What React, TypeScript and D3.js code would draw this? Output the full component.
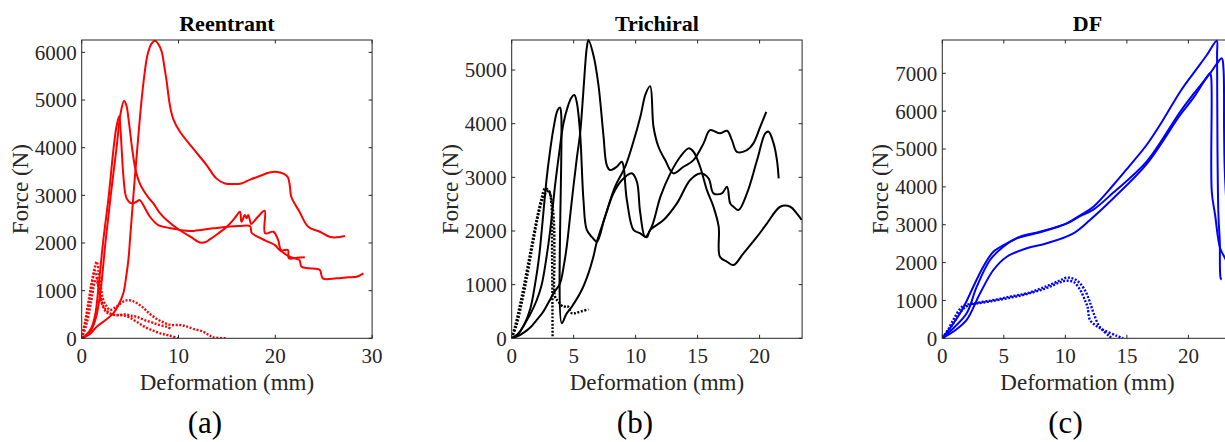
import React from "react";
import * as d3 from "d3";

// ---------- Data (Deformation mm, Force N) ----------
// (a) Reentrant
const reSolid1: [number, number][] = [[0,0],[0.8,80],[1.55,243],[2.5,390],[3.26,524],[3.8,700],[4.3,944],[4.6,1300],[4.85,1700],[5.0,2100],[5.25,2750],[5.5,3400],[5.75,4000],[6.0,4600],[6.4,5400],[6.8,5950],[7.2,6180],[7.57,6245],[7.9,6180],[8.26,6020],[8.5,5750],[8.77,5400],[9.1,4900],[9.46,4600],[10.15,4334],[11.5,3986],[12.9,3635],[13.9,3356],[14.8,3250],[15.65,3237],[16.5,3250],[17.4,3330],[18.4,3405],[19.4,3480],[20.2,3490],[20.9,3450],[21.3,3380],[21.5,3200],[21.65,2970],[22.5,2656],[23.4,2341],[24.6,2236],[25.6,2130],[26.3,2118],[27.2,2146]];
const reSolid2: [number, number][] = [[0,0],[0.5,60],[1.0,180],[1.5,450],[1.95,1000],[2.45,2000],[3.0,3000],[3.6,4000],[4.0,4700],[4.37,4978],[4.6,4900],[4.9,4500],[5.2,4000],[5.5,3600],[5.9,3300],[6.36,3111],[6.9,2950],[7.4,2832],[8.0,2650],[8.77,2482],[10.1,2272],[11.5,2098],[12.0,2030],[12.4,2006],[12.8,2020],[13.2,2070],[14.1,2200],[15.0,2341],[15.8,2520],[16.35,2656],[16.5,2446],[16.86,2587],[17.03,2517],[17.2,2587],[17.37,2482],[17.5,2400],[18.2,2550],[18.9,2677],[18.95,2203],[19.8,2236],[20.3,2062],[20.6,1852],[21.3,1852],[21.4,1678],[22.2,1690],[23.05,1700]];
const reSolid3: [number, number][] = [[0,0],[0.5,80],[1.0,220],[1.4,500],[1.7,1000],[2.2,2000],[2.8,3000],[3.3,4000],[3.6,4450],[3.88,4663],[4.0,4400],[4.15,3900],[4.3,3425],[4.64,2937],[5.16,2832],[5.6,2860],[6.0,2900],[6.36,2796],[7.05,2551],[7.9,2377],[8.77,2328],[9.5,2300],[10.5,2260],[11.2,2251],[12.5,2280],[13.6,2307],[15.0,2340],[16.3,2356],[17.4,2350],[17.55,2216],[18.0,2150],[19.0,2050],[20.0,1950],[20.3,1880],[20.8,1800],[21.4,1720],[22.0,1680],[22.5,1642],[22.7,1502],[23.5,1470],[24.6,1433],[24.9,1258],[26.3,1258],[27.5,1280],[28.4,1292],[29.1,1363]];
const reDotted1: [number, number][] = [[0,0],[0.4,400],[0.8,900],[1.2,1350],[1.55,1607],[1.75,1400],[2.0,1050],[2.23,803],[2.6,663],[2.92,594],[3.5,650],[4.2,760],[4.8,803],[5.5,760],[6.3,650],[7.0,520],[7.8,400],[8.5,330],[9.2,280],[10.15,279],[10.8,250],[11.5,200],[12.55,139],[13.2,60],[13.6,20],[15.0,0]];
const reDotted2: [number, number][] = [[0,0],[0.4,350],[0.8,800],[1.1,1200],[1.37,1420],[1.6,1250],[1.9,900],[2.3,650],[2.8,540],[3.3,490],[3.95,489],[4.5,500],[5.2,470],[5.68,453],[6.5,380],[7.3,330],[8.0,280],[8.8,240],[9.2,200]];
const reDotted3: [number, number][] = [[0,0],[0.5,300],[1.0,800],[1.3,1150],[1.5,1250],[1.7,1100],[2.0,780],[2.5,560],[3.0,500],[3.6,490],[4.3,480],[5.0,430],[5.8,330],[6.6,230],[7.4,160],[8.2,100],[9.0,60],[10.0,0]];

// (b) Trichiral
const triSolid1: [number, number][] = [[0,0],[0.5,80],[1.0,250],[1.5,550],[1.88,1000],[2.2,1500],[2.42,2000],[2.83,3000],[3.1,3500],[3.4,3950],[3.7,4250],[3.9,4300],[4.0,4150],[4.04,279],[4.4,450],[4.85,589],[5.65,900],[6.19,1211],[6.59,1520],[6.87,1800],[7.54,2266],[8.34,2825],[9.15,3197],[9.8,3650],[10.4,4150],[10.8,4550],[11.17,4700],[11.44,3943],[11.84,3570],[12.38,3322],[13.05,3074],[13.86,3197],[14.67,3322],[15.48,3633],[16.0,3881],[16.8,3820],[17.37,3868],[17.77,3695],[18.17,3477],[18.98,3508],[19.5,3633],[20.05,3943],[20.54,4222]];
const triSolid2: [number, number][] = [[0,0],[0.5,70],[1.0,250],[1.5,450],[2.0,700],[2.42,1000],[2.8,1500],[3.1,2000],[3.5,2850],[3.8,3400],[4.17,4000],[4.5,4300],[4.8,4480],[5.05,4534],[5.25,4400],[5.52,3820],[5.79,2578],[6.06,2019],[6.5,1880],[6.87,1800],[7.5,2250],[8.2,2700],[8.9,2950],[9.69,3075],[10.1,2918],[10.36,2359],[10.77,1893],[11.3,2080],[12.0,2640],[12.8,3074],[13.6,3384],[14.27,3540],[14.67,3477],[15.2,3197],[15.75,2763],[16.28,2452],[16.7,2080],[16.8,1520],[17.37,1427],[17.9,1366],[18.7,1584],[19.8,1893],[20.6,2143],[21.67,2452],[22.48,2452],[23.0,2329],[23.4,2204]];
const triSolid3: [number, number][] = [[0,0],[0.5,40],[1.0,110],[1.5,200],[2.02,342],[2.5,480],[3.0,680],[3.37,839],[3.9,1025],[4.2,1350],[4.44,1708],[4.7,2250],[4.98,2826],[5.25,3350],[5.52,3820],[5.75,4500],[5.92,5062],[6.05,5400],[6.19,5558],[6.59,5279],[7.0,4720],[7.4,3788],[7.67,3229],[7.94,3136],[8.48,3198],[8.88,3291],[9.29,2578],[9.83,2019],[10.37,1957],[10.9,1882],[11.17,2018],[12.25,2204],[13.33,2515],[14.4,2950],[15.2,3074],[15.88,2981],[16.28,2702],[16.96,2702],[17.37,2825],[17.63,2515],[17.9,2452],[18.3,2390],[18.98,2702],[19.8,3322],[20.46,3820],[20.73,3850],[21.13,3633],[21.4,3322],[21.54,2981]];
const triDotted1: [number, number][] = [[0,0],[0.3,250],[0.6,550],[1.0,1000],[1.5,1600],[2.0,2200],[2.4,2600],[2.69,2795],[3.0,2750],[3.2,2500],[3.26,1500],[3.3,0]];
const triDotted2: [number, number][] = [[0,0],[0.4,250],[0.8,650],[1.2,1100],[1.7,1750],[2.2,2350],[2.6,2650],[2.96,2750],[3.2,2600],[3.4,2200],[3.45,1500],[3.5,776],[3.77,683],[4.17,590],[4.5,600],[4.85,466],[5.1,466],[5.6,500],[6.19,540]];

// (c) DF
const dfSolid1: [number, number][] = [[0,0],[0.7,300],[1.44,660],[2.0,1000],[2.52,1363],[3.33,1891],[4.15,2287],[5.24,2509],[6.32,2684],[7.94,2816],[10.1,3037],[11.2,3250],[12.28,3477],[13.9,4049],[15.2,4550],[16.6,5106],[18.0,5800],[19.33,6514],[20.4,7000],[21.5,7483],[22.3,7861],[22.33,7500],[22.36,5106],[22.44,3257],[22.55,2552],[22.62,1585],[22.7,1550]];
const dfSolid2: [number, number][] = [[0,0],[1.0,300],[1.98,660],[2.8,1363],[3.88,2068],[4.96,2420],[6.05,2641],[7.94,2800],[10.1,3030],[11.2,3230],[12.28,3400],[13.9,3850],[16.6,4665],[19.33,5985],[20.4,6450],[21.76,7000],[22.3,7250],[22.72,7395],[22.85,7132],[22.9,5500],[22.95,4490],[23.1,3500],[23.3,2600]];
const dfSolid3: [number, number][] = [[0,0],[1.0,200],[1.98,484],[3.07,1188],[4.15,1804],[5.24,2155],[6.86,2377],[8.49,2509],[10.65,2773],[12.0,3125],[13.9,3700],[16.6,4600],[19.33,5900],[20.4,6350],[21.3,6800],[21.76,7000],[21.85,6900],[21.9,3872],[22.17,3257],[22.58,2377],[22.98,2113],[23.4,1800]];
const dfDotted1: [number, number][] = [[0,0],[0.5,250],[1.0,550],[1.5,800],[1.8,870],[2.5,920],[4.0,1000],[5.5,1100],[7.0,1200],[8.5,1380],[9.5,1520],[10.1,1600],[10.7,1570],[11.2,1450],[11.7,1200],[12.0,950],[12.3,660],[12.8,300],[13.6,50],[13.8,0]];
const dfDotted2: [number, number][] = [[0,0],[0.5,200],[1.0,450],[1.5,700],[2.0,850],[2.5,900],[4.0,980],[5.5,1070],[7.0,1180],[8.5,1330],[9.5,1470],[10.1,1520],[10.7,1480],[11.2,1280],[11.6,1000],[11.8,836],[12.0,484],[12.5,330],[13.1,220],[14.2,62],[14.7,0]];

// Tick values
const reXTicks = [0, 10, 20, 30];
const reYTicks = [0, 1000, 2000, 3000, 4000, 5000, 6000];
const triXTicks = [0, 5, 10, 15, 20];
const triYTicks = [0, 1000, 2000, 3000, 4000, 5000];
const dfXTicks = [0, 5, 10, 15, 20];
const dfYTicks = [0, 1000, 2000, 3000, 4000, 5000, 6000, 7000];

const titles = ["Reentrant", "Trichiral", "DF"];
const subLabels = ["(a)", "(b)", "(c)"];
const xLabel = "Deformation (mm)";
const yLabel = "Force (N)";

// ---------- Layout ----------
const W = 1225;
const H = 442;
const TOP = 40;
const BOTTOM = 338.3;
const PW = 290.4;
const FONT = "'Liberation Serif', 'Times New Roman', serif";
const AX = "#262626";

const panels = [
  { left: 81.7, xMax: 30, yMax: 6260, xTicks: reXTicks, yTicks: reYTicks, color: "#ff0000", solid: [reSolid1, reSolid2, reSolid3], dotted: [reDotted1, reDotted2, reDotted3] },
  { left: 511.7, xMax: 23.43, yMax: 5560, xTicks: triXTicks, yTicks: triYTicks, color: "#000000", solid: [triSolid1, triSolid2, triSolid3], dotted: [triDotted1, triDotted2] },
  { left: 942.3, xMax: 23.6, yMax: 7880, xTicks: dfXTicks, yTicks: dfYTicks, color: "#0000ff", solid: [dfSolid1, dfSolid2, dfSolid3], dotted: [dfDotted1, dfDotted2] },
];

function Panel({ p, i }: { p: any; i: number }) {
  const x = d3.scaleLinear().domain([0, p.xMax]).range([p.left, p.left + PW]);
  const y = d3.scaleLinear().domain([0, p.yMax]).range([BOTTOM, TOP]);
  const line = d3
    .line<[number, number]>()
    .x((d) => x(d[0]))
    .y((d) => y(d[1]))
    .curve(d3.curveCatmullRom.alpha(0.5));
  const cx = p.left + PW / 2;
  const clipId = `clip${i}`;
  const tl = 3.5;
  return (
    <g>
      <defs>
        <clipPath id={clipId}>
          <rect x={p.left} y={TOP - 1} width={PW} height={BOTTOM - TOP + 1} />
        </clipPath>
      </defs>
      <g clipPath={`url(#${clipId})`}>
        {p.dotted.map((d: [number, number][], k: number) => (
          <path key={"d" + k} d={line(d) || ""} fill="none" stroke={p.color} strokeWidth={2.4} strokeDasharray="2 1.6" />
        ))}
        {p.solid.map((d: [number, number][], k: number) => (
          <path key={"s" + k} d={line(d) || ""} fill="none" stroke={p.color} strokeWidth={2} strokeLinejoin="round" />
        ))}
      </g>
      {/* box */}
      <rect x={p.left} y={TOP} width={PW} height={BOTTOM - TOP} fill="none" stroke={AX} strokeWidth={1} />
      {p.xTicks.map((t: number) => (
        <g key={"xt" + t}>
          <line x1={x(t)} x2={x(t)} y1={BOTTOM} y2={BOTTOM - tl} stroke={AX} />
          <line x1={x(t)} x2={x(t)} y1={TOP} y2={TOP + tl} stroke={AX} />
          <text x={x(t)} y={363} textAnchor="middle" fontSize={21} fill={AX} fontFamily={FONT}>
            {t}
          </text>
        </g>
      ))}
      {p.yTicks.map((t: number) => (
        <g key={"yt" + t}>
          <line x1={p.left} x2={p.left + tl} y1={y(t)} y2={y(t)} stroke={AX} />
          <line x1={p.left + PW} x2={p.left + PW - tl} y1={y(t)} y2={y(t)} stroke={AX} />
          <text x={p.left - 5} y={y(t)} dy="0.35em" textAnchor="end" fontSize={21} fill={AX} fontFamily={FONT}>
            {t}
          </text>
        </g>
      ))}
      <text x={cx} y={31} textAnchor="middle" fontSize={22} fontWeight="bold" fill="#000" fontFamily={FONT}>
        {titles[i]}
      </text>
      <text x={cx} y={390} textAnchor="middle" fontSize={23} fill={AX} fontFamily={FONT}>
        {xLabel}
      </text>
      <text transform={`translate(${p.left - 54},${(TOP + BOTTOM) / 2}) rotate(-90)`} textAnchor="middle" fontSize={23} fill={AX} fontFamily={FONT}>
        {yLabel}
      </text>
      <text x={cx - 22} y={433} textAnchor="middle" fontSize={31} fill="#000" fontFamily={FONT}>
        {subLabels[i]}
      </text>
    </g>
  );
}

export default function App() {
  return (
    <svg width={W} height={H} style={{ position: "absolute", left: 0, top: 0, background: "#fff" }}>
      <rect x={0} y={0} width={W} height={H} fill="#fff" />
      {panels.map((p, i) => (
        <Panel key={i} p={p} i={i} />
      ))}
    </svg>
  );
}
